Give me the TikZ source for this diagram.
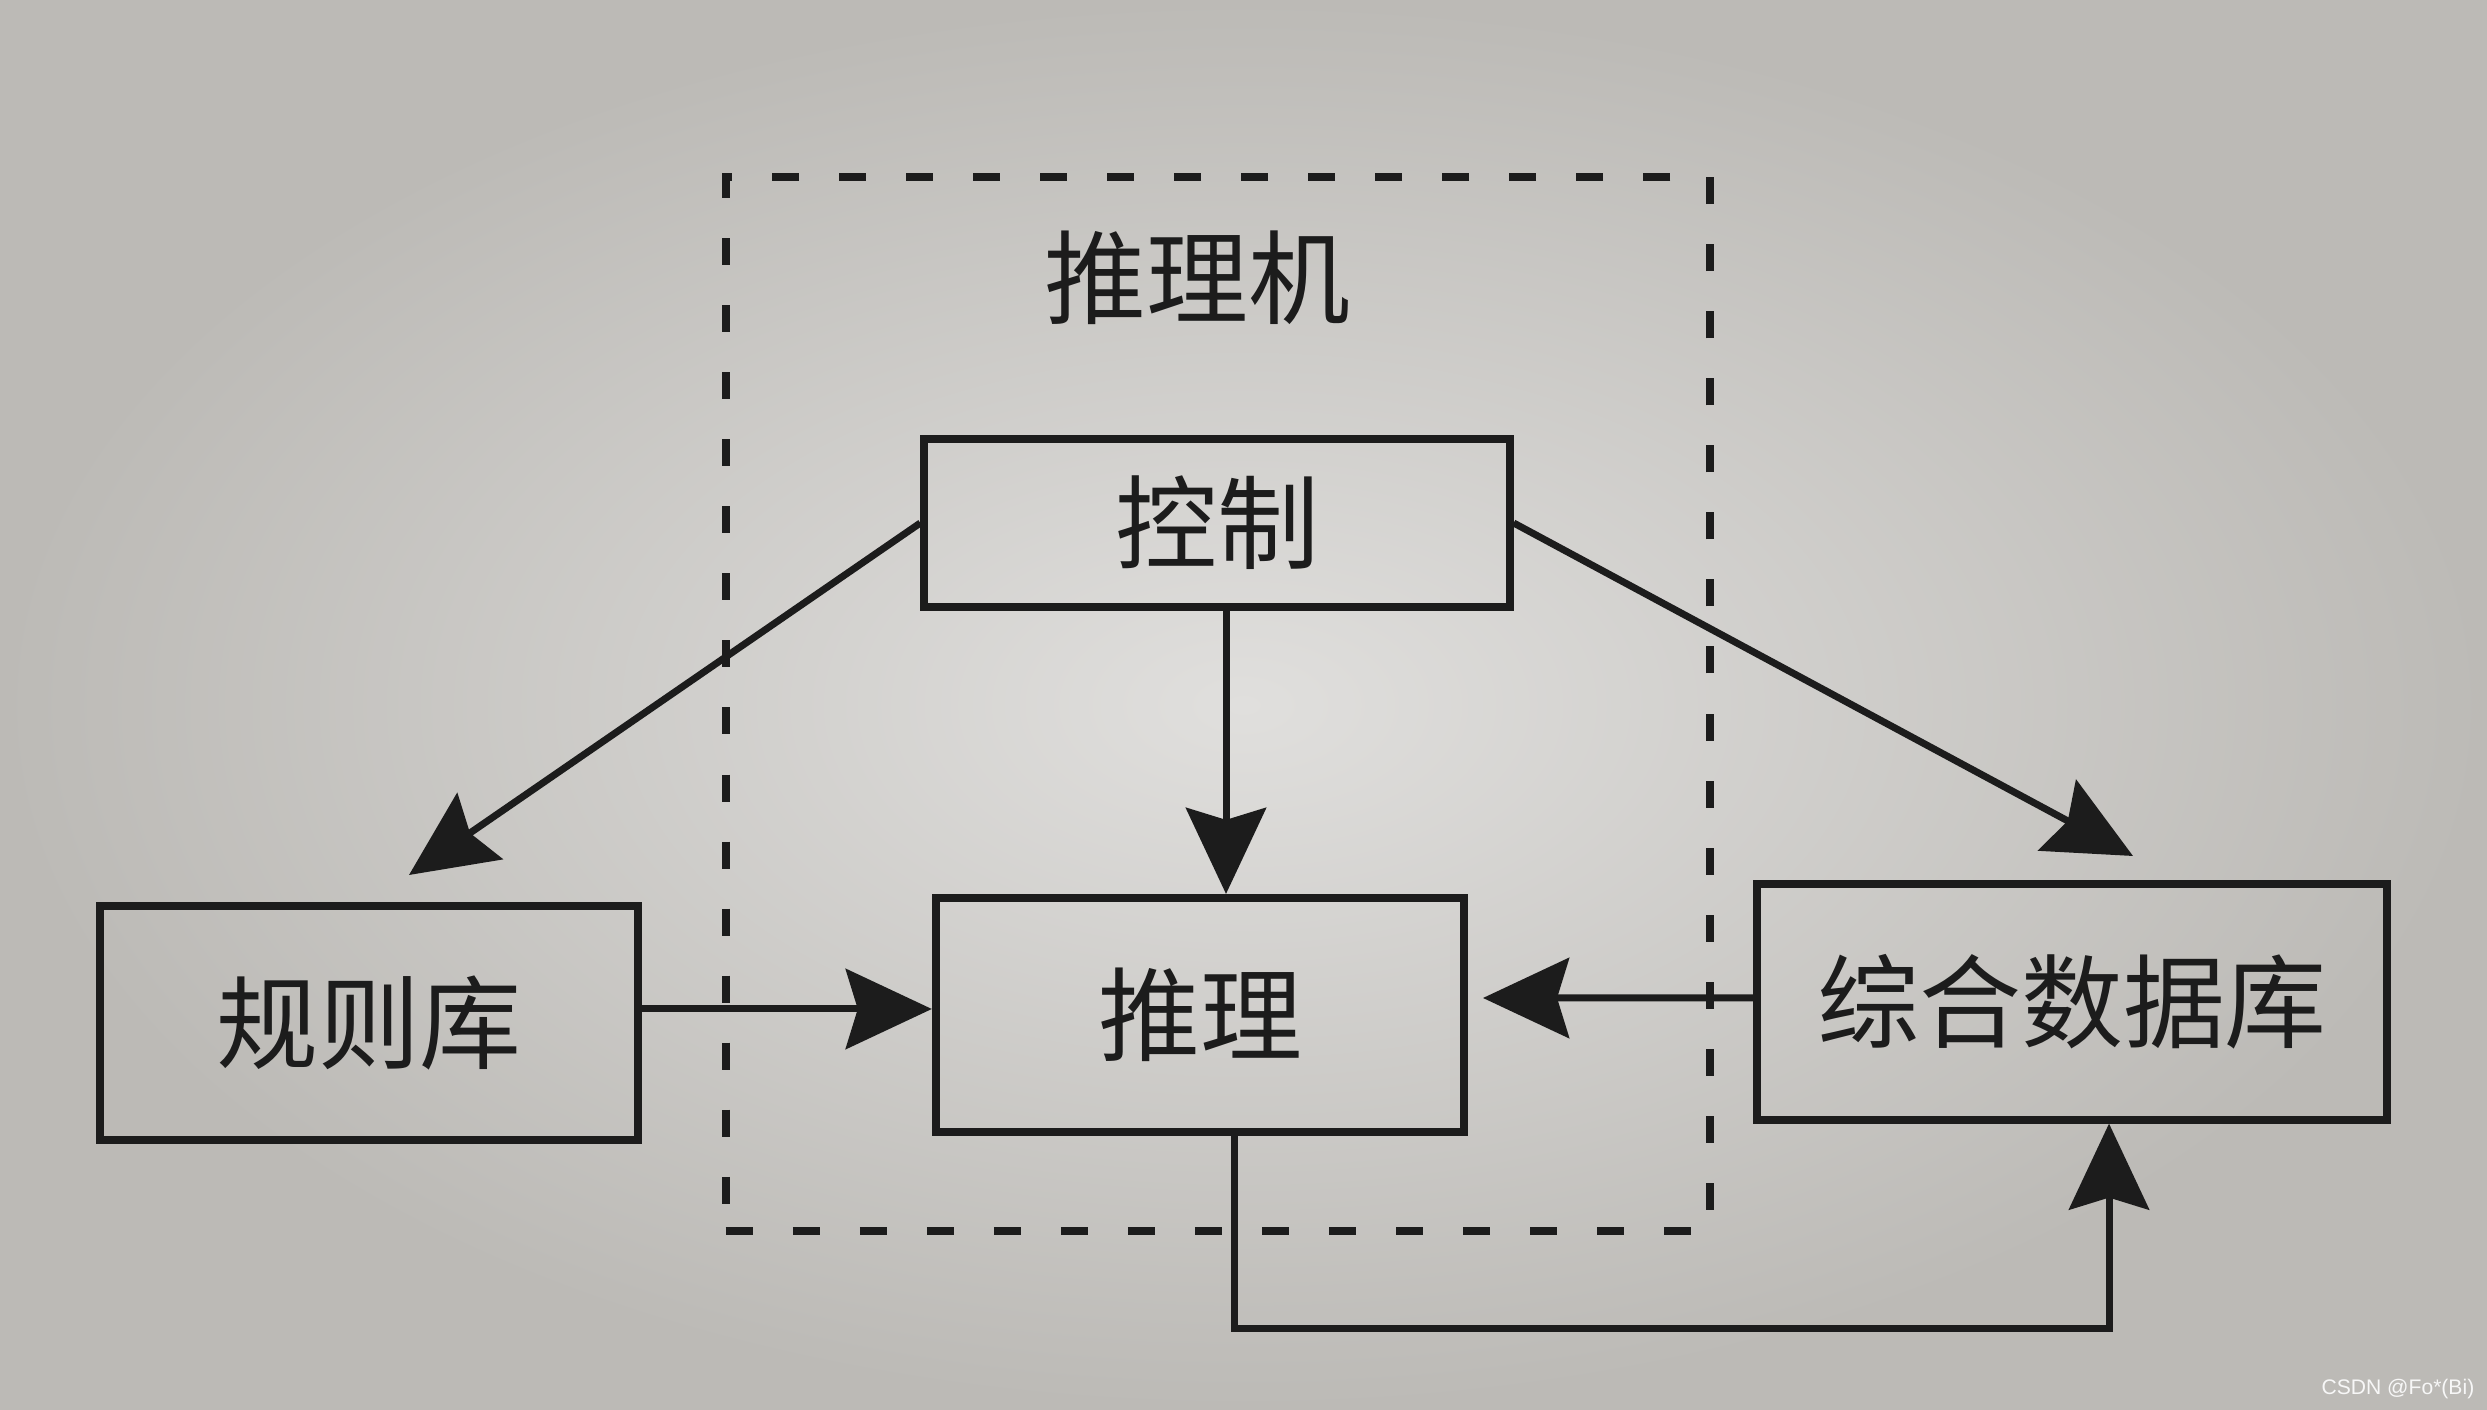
\documentclass[tikz,border=0pt]{standalone}
\usepackage{fontspec}
\newfontfamily\cjk{Noto Sans CJK SC}
\setmainfont{Liberation Sans}
\usetikzlibrary{arrows.meta,calc}
\definecolor{ink}{HTML}{1C1C1C}
\definecolor{paperin}{HTML}{E0DFDD}
\definecolor{paperout}{HTML}{BCBAB6}
\tikzset{
  box/.style={draw=ink, line width=0.08cm, inner sep=0pt, font=\cjk\fontsize{29}{29}\selectfont, text=ink},
  lbl/.style={inner sep=0pt, font=\cjk\fontsize{29}{29}\selectfont, text=ink},
  arr/.style={draw=ink, line width=0.07cm, -{Stealth[length=0.86cm, width=0.8cm, inset=0.12cm]}},
  engine/.style={draw=ink, line width=0.08cm, dash pattern=on 0.27cm off 0.4cm, inner sep=0pt}
}
\begin{document}
\begin{tikzpicture}[x=0.01cm,y=-0.01cm]
\shade[inner color=paperin, outer color=paperout] (0,0) rectangle (2487,1410);
\useasboundingbox (0,0) rectangle (2487,1410);
% dashed inference engine frame
\node[engine, minimum width=9.84cm, minimum height=10.53cm] (eng) at (1218,704) {};
\node[lbl] (englbl) at (1197,278) {推理机};
% boxes
\node[box, minimum width=5.85cm, minimum height=1.68cm] (ctrl) at (1217,523) {控制};
\node[box, minimum width=5.28cm, minimum height=2.34cm] (infer) at (1200,1015) {推理};
\node[box, minimum width=5.38cm, minimum height=2.33cm] (rule) at (369,1023) {规则库};
\node[box, minimum width=6.30cm, minimum height=2.35cm] (db) at (2072,1002) {综合数据库};
% free ends
\coordinate (ruletip) at (409,875);
\coordinate (dbtip) at (2133,856);
\coordinate (inftip) at (1483,998);
% connectors
\draw[arr] (ctrl.west) -- (ruletip);
\draw[arr] (ctrl.east) -- (dbtip);
\draw[arr] ([xshift=0.09cm]ctrl.south) -- ([xshift=0.09cm]ctrl.south |- infer.north);
\draw[arr] ([yshift=0.14cm]rule.east) -- ([yshift=0.14cm]rule.east -| infer.west);
\draw[arr] ([yshift=0.04cm]db.west) -- (inftip);
\draw[arr] ([xshift=0.34cm]infer.south) -- ++(0,192) -| ([xshift=0.37cm]db.south);
% watermark
\node[text=white!94!gray, font=\fontsize{6}{6}\selectfont, anchor=east, inner sep=0pt] (wm) at (2475,1389) {CSDN @Fo*(Bi)};
\end{tikzpicture}
\end{document}
